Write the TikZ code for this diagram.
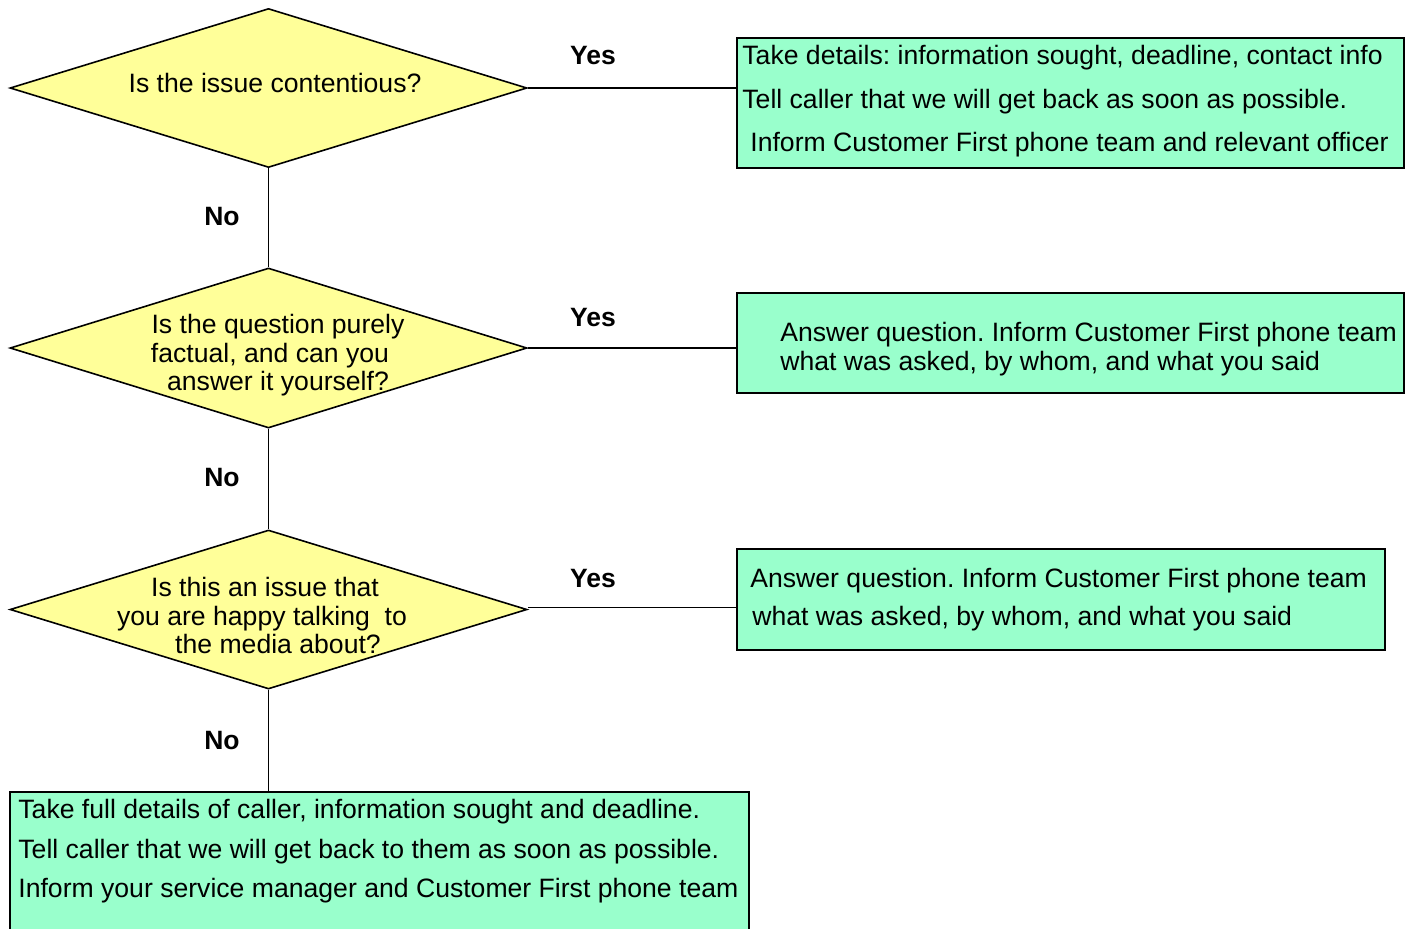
\documentclass[tikz,border=0pt]{standalone}
\usepackage{fontspec}
\setmainfont{Liberation Sans}
\usetikzlibrary{shapes.geometric}
\definecolor{boxgreen}{HTML}{99FFCC}
\definecolor{diayellow}{HTML}{FFFF99}
\frenchspacing
\begin{document}
\begin{tikzpicture}[x=0.5pt,y=-0.5pt,
  txt/.style={inner sep=0pt,font=\fontsize{13.3}{15}\selectfont},
  lbl/.style={inner sep=0pt,font=\fontsize{13.25}{15}\selectfont\bfseries,anchor=base},
  decision/.style={diamond,draw=black,line width=0.8pt,fill=diayellow,inner sep=0pt,minimum width=258.5pt},
  actionbox/.style={rectangle,draw=black,line width=0.8pt,fill=boxgreen,inner sep=0pt},
  link/.style={draw=black,line width=0.8pt}]
\clip (0,0) rectangle (1416,928);
\fill[white] (0,0) rectangle (1416,928);
% decisions
\node[decision,minimum height=79.5pt] (d1) at (268.5,88) {};
\node[decision,minimum height=80pt] (d2) at (268.5,348) {};
\node[decision,minimum height=79.5pt] (d3) at (268.5,609.5) {};
% action boxes
\node[actionbox,minimum width=333.5pt,minimum height=65pt] (b1) at (1070.5,103) {};
\node[actionbox,minimum width=333.5pt,minimum height=50pt] (b2) at (1070.5,343) {};
\node[actionbox,minimum width=324pt,minimum height=50.5pt] (b3) at (1061,599.5) {};
\node[actionbox,minimum width=369.5pt,minimum height=84pt] (b4) at (379.5,876) {};
% connectors
\draw[link] (d1.east) -- (d1.east -| b1.west);
\draw[link] (d2.east) -- (d2.east -| b2.west);
\draw[link] ([yshift=1pt]d3.east) -- ([yshift=1pt]d3.east -| b3.west);
\draw[link] (d1.south) -- (d2.north);
\draw[link] (d2.south) -- (d3.north);
\draw[link] (d3.south) -- (d3.south |- b4.north);
% decision texts
\node[txt,anchor=base] (t1) at (275,92) {Is the issue contentious?};
\node[txt,anchor=base] (t2a) at (278,333) {Is the question purely};
\node[txt,anchor=base] (t2b) at (270,362) {factual, and can you};
\node[txt,anchor=base] (t2c) at (278,390) {answer it yourself?};
\node[txt,anchor=base] (t3a) at (265,596) {Is this an issue that};
\node[txt,anchor=base] (t3b) at (262,625) {you are happy talking\ \ to};
\node[txt,anchor=base] (t3c) at (278,653) {the media about?};
% box texts
\node[txt,anchor=base west] (p1a) at (742,64) {Take details: information sought, deadline, contact info};
\node[txt,anchor=base west] (p1b) at (742,108) {Tell caller that we will get back as soon as possible.};
\node[txt,anchor=base west] (p1c) at (750,151) {Inform Customer First phone team and relevant officer};
\node[txt,anchor=base west] (p2a) at (780,341) {Answer question. Inform Customer First phone team};
\node[txt,anchor=base west] (p2b) at (780,370) {what was asked, by whom, and what you said};
\node[txt,anchor=base west] (p3a) at (750,587) {Answer question. Inform Customer First phone team};
\node[txt,anchor=base west] (p3b) at (752,625) {what was asked, by whom, and what you said};
\node[txt,anchor=base west] (p4a) at (18,818) {Take full details of caller, information sought and deadline.};
\node[txt,anchor=base west] (p4b) at (18,858) {Tell caller that we will get back to them as soon as possible.};
\node[txt,anchor=base west] (p4c) at (18,897) {Inform your service manager and Customer First phone team};
% labels
\node[lbl] (y1) at (593,64) {Yes};
\node[lbl] (y2) at (593,326) {Yes};
\node[lbl] (y3) at (593,587) {Yes};
\node[lbl] (n1) at (222,225) {No};
\node[lbl] (n2) at (222,486) {No};
\node[lbl] (n3) at (222,749) {No};
\end{tikzpicture}
\end{document}
